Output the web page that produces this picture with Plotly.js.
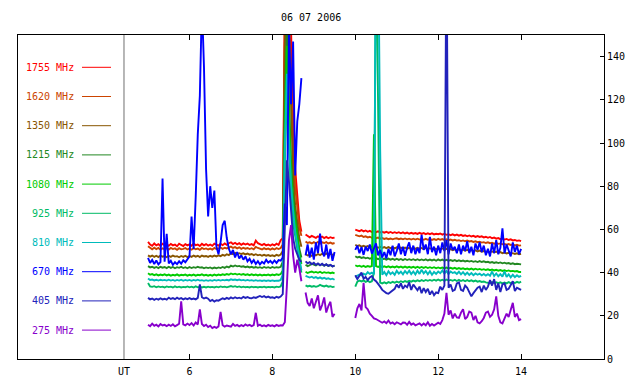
<!DOCTYPE html>
<html>
<head>
<meta charset="utf-8">
<script src="https://cdn.plot.ly/plotly-3.0.1.min.js"></script>
<style>html,body{margin:0;padding:0;background:#fff;}#chart{width:640px;height:384px;}</style>
</head>
<body>
<div id="chart"></div>
<script>
// Time (UT hours); null values in the series mark data gaps (8.75 and 9.75)
const T = [
5.00,5.05,5.10,5.15,5.20,5.25,5.30,5.35,5.40,5.45,
5.50,5.55,5.60,5.65,5.70,5.75,5.80,5.85,5.90,5.95,
6.00,6.05,6.10,6.15,6.20,6.25,6.30,6.35,6.40,6.45,
6.50,6.55,6.60,6.65,6.70,6.75,6.80,6.85,6.90,6.95,
7.00,7.05,7.10,7.15,7.20,7.25,7.30,7.35,7.40,7.45,
7.50,7.55,7.60,7.65,7.70,7.75,7.80,7.85,7.90,7.95,
8.00,8.05,8.10,8.15,8.20,8.25,8.30,8.35,8.40,8.45,
8.50,8.55,8.60,8.65,8.70,
8.75,
8.80,8.85,8.90,8.95,9.00,9.05,9.10,9.15,9.20,9.25,
9.30,9.35,9.40,9.45,9.50,
9.75,
10.00,10.05,10.10,10.15,10.20,10.25,10.30,10.35,10.40,10.45,
10.50,10.55,10.60,10.65,10.70,10.75,10.80,10.85,10.90,10.95,
11.00,11.05,11.10,11.15,11.20,11.25,11.30,11.35,11.40,11.45,
11.50,11.55,11.60,11.65,11.70,11.75,11.80,11.85,11.90,11.95,
12.00,12.05,12.10,12.15,12.20,12.25,12.30,12.35,12.40,12.45,
12.50,12.55,12.60,12.65,12.70,12.75,12.80,12.85,12.90,12.95,
13.00,13.05,13.10,13.15,13.20,13.25,13.30,13.35,13.40,13.45,
13.50,13.55,13.60,13.65,13.70,13.75,13.80,13.85,13.90,13.95,
14.00];

const s1755 = [
54.2,53.0,52.4,53.5,52.6,53.2,52.3,53.4,52.7,53.1,
52.4,53.3,52.6,53.0,52.2,53.4,52.8,52.3,53.2,52.6,
53.1,52.4,53.5,52.7,53.0,52.3,53.3,52.6,53.2,52.5,
53.0,52.4,53.4,52.8,52.5,53.3,52.7,53.5,52.9,53.6,
54.0,53.2,53.8,53.1,53.6,52.9,53.5,53.0,53.4,52.8,
53.2,52.6,54.8,53.6,53.1,52.7,53.3,52.6,53.0,52.5,
53.1,52.6,53.4,52.8,55.0,56,170,210,190,150,
115,88,76,64,59,
null,
57.6,56.9,56.3,57.0,56.6,56.1,56.8,56.2,56.7,56.0,
56.5,55.9,56.4,56.0,56.2,
null,
59.9,59.5,59.2,59.7,59.1,59.5,58.9,59.3,58.8,59.2,
58.7,59.1,58.6,58.9,58.5,58.9,58.4,58.8,58.3,58.7,
58.3,58.7,58.2,58.6,58.1,58.5,58.0,58.4,58.0,58.3,
57.9,58.4,57.9,58.3,57.8,58.2,57.8,58.2,57.7,58.0,
57.8,58.1,57.6,58.0,57.5,57.8,57.3,57.7,57.2,57.6,
57.1,57.5,57.0,57.3,56.8,57.2,56.7,57.0,56.5,56.9,
56.5,56.8,56.3,56.6,56.1,56.5,55.9,56.2,55.7,56.0,
55.5,55.8,55.3,55.6,55.1,55.4,54.9,55.1,54.7,54.9,
54.6];

const s1620 = [
52.2,51.3,50.8,51.5,50.9,51.4,50.6,51.2,50.8,51.3,
50.7,51.4,50.9,51.2,50.5,51.3,50.8,51.0,51.4,50.7,
51.2,50.6,51.3,50.8,51.1,50.5,51.4,50.9,51.2,50.7,
51.1,50.6,51.4,50.9,51.2,51.6,51.0,51.5,51.2,51.7,
52.0,51.4,51.8,51.2,51.7,51.0,51.5,51.1,51.4,50.9,
51.3,50.8,51.9,51.4,51.0,50.7,51.3,50.8,51.1,50.6,
51.2,50.7,51.3,50.9,51.4,53,155,195,165,125,
98,80,71,61,57,
null,
54.4,53.7,54.0,53.5,54.1,53.6,54.2,53.4,54.0,53.7,
54.1,53.5,53.9,53.4,53.7,
null,
57.5,57.0,56.8,57.1,56.5,56.8,56.3,56.6,56.1,56.4,
55.9,56.2,55.7,56.0,55.6,55.9,55.5,55.8,55.4,55.7,
55.9,55.5,55.8,55.4,55.8,55.4,55.7,55.3,55.7,55.3,
55.7,55.3,55.6,55.2,55.6,55.2,55.5,55.1,55.5,55.1,
55.6,55.2,55.5,55.1,55.4,55.0,55.3,54.9,55.2,54.8,
55.0,54.6,54.9,54.5,54.8,54.4,54.6,54.2,54.5,54.1,
54.3,53.9,54.1,53.7,54.0,53.6,53.8,53.4,53.7,53.3,
53.5,53.1,53.3,52.9,53.2,52.8,53.0,52.6,52.9,52.5,
52.6];

const s1350 = [
48.0,47.4,47.9,47.3,47.8,47.2,47.9,47.4,47.7,47.2,
47.8,47.3,47.9,47.4,47.6,47.1,47.7,47.3,47.8,47.2,
47.7,47.3,47.9,47.4,47.8,47.2,47.9,47.5,47.7,47.3,
47.8,47.4,47.9,47.5,48.0,47.6,48.2,47.8,48.5,48.1,
48.9,48.5,49.1,48.6,49.0,48.6,48.9,48.4,48.8,48.3,
48.6,48.1,48.5,48.0,48.3,47.8,48.2,47.8,48.1,47.7,
48.0,47.6,48.2,47.8,48.4,50,145,175,150,112,
86,71,63,56,52,
null,
48.6,47.9,48.3,47.7,48.4,48.0,48.6,48.1,48.7,48.2,
48.9,48.3,48.7,48.2,48.5,
null,
52.9,52.3,52.6,52.0,52.4,51.9,52.3,51.7,52.1,51.6,
52.0,51.5,51.9,51.4,51.8,51.3,51.8,51.3,51.7,51.2,
51.7,51.2,51.6,51.1,51.6,51.1,51.5,51.0,51.5,51.0,
51.5,51.0,51.4,50.9,51.4,50.9,51.3,50.8,51.3,50.8,
51.4,50.9,51.2,50.7,51.0,50.6,50.9,50.4,50.8,50.3,
50.7,50.2,50.6,50.1,50.5,50.0,50.4,49.9,50.3,49.8,
50.2,49.7,50.0,49.6,49.9,49.4,49.8,49.3,49.7,49.2,
49.5,49.0,49.3,48.9,49.2,48.8,49.0,48.6,48.9,48.5,
48.7];

const s1215 = [
43.0,42.4,42.7,42.2,42.6,42.1,42.7,42.3,42.6,42.1,
42.7,42.2,42.6,42.0,42.5,42.2,42.7,42.1,42.5,42.0,
42.6,42.1,42.5,42.2,42.7,42.3,42.5,42.0,42.4,42.1,
42.4,41.9,42.3,42.0,42.4,42.1,42.6,42.2,42.8,42.4,
43.2,42.8,43.3,42.9,43.1,42.7,42.9,42.5,42.8,42.4,
42.7,42.3,42.6,42.2,42.5,42.1,42.6,42.2,42.5,42.1,
42.6,42.2,42.5,42.3,42.7,45,115,155,122,92,
76,66,59,51,47,
null,
43.6,43.0,43.4,44.2,43.7,43.3,44.0,43.5,43.8,43.2,
43.7,43.1,43.5,42.9,43.2,
null,
47.6,47.0,47.3,46.8,47.1,46.6,46.9,46.4,46.8,46.3,
46.7,46.2,46.6,46.1,46.5,46.0,46.5,46.0,46.4,45.9,
46.4,45.9,46.3,45.8,46.3,45.8,46.2,45.8,46.2,45.7,
46.2,45.7,46.1,45.7,46.1,45.6,46.0,45.6,46.0,45.5,
46.1,45.6,46.0,45.5,45.9,45.5,45.8,45.4,45.8,45.3,
45.7,45.3,45.6,45.2,45.5,45.1,45.4,45.0,45.3,44.9,
45.3,44.9,45.2,44.8,45.0,44.6,44.9,44.5,44.8,44.4,
44.7,44.3,44.6,44.2,44.4,44.0,44.3,43.9,44.1,43.8,
43.8];

const s1080 = [
39.7,39.0,39.3,38.8,39.2,38.7,39.1,38.8,39.2,38.7,
39.1,38.6,39.0,38.7,39.2,38.6,39.0,38.8,39.1,38.6,
39.0,38.7,39.1,38.6,39.0,38.8,39.2,38.7,39.0,38.6,
39.0,38.6,39.1,38.7,39.1,38.8,39.2,38.9,39.3,39.0,
39.6,39.2,39.5,39.1,39.4,39.0,39.3,38.9,39.2,38.8,
39.2,38.8,39.1,38.7,39.1,38.7,39.0,38.8,39.1,38.7,
39.1,38.8,39.2,38.9,39.3,41,105,145,112,86,
71,63,56,49,44,
null,
40.4,39.8,40.2,40.5,40.0,40.3,39.9,40.4,39.8,40.2,
39.9,40.1,39.7,40.0,39.6,
null,
43.4,42.9,43.2,42.7,43.1,42.6,43.0,42.7,43.0,104.0,
43.0,42.6,43.0,42.5,42.9,42.5,42.9,42.4,42.8,42.4,
42.9,42.4,42.8,42.3,42.8,42.3,42.7,42.3,42.7,42.2,
42.7,42.2,42.6,42.2,42.6,42.1,42.5,42.1,42.5,42.0,
42.4,42.0,42.3,41.9,42.3,41.9,42.2,41.8,42.2,41.7,
42.1,41.7,42.0,41.6,41.9,41.5,41.9,41.4,41.8,41.4,
41.7,41.3,41.6,41.2,41.5,41.1,41.4,41.0,41.3,40.9,
41.2,40.8,41.1,40.7,41.0,40.6,40.8,40.5,40.7,40.3,
40.3];

const s925 = [
35.2,33.6,33.4,33.7,33.2,33.6,33.3,33.5,33.1,33.6,
33.3,33.5,33.1,33.6,33.2,33.5,33.1,33.4,33.2,33.6,
33.2,33.5,33.1,33.6,33.2,33.5,33.1,33.4,33.1,33.5,
33.2,33.4,33.1,33.5,33.2,33.6,33.3,33.5,33.2,33.6,
33.8,33.4,33.7,33.3,33.6,33.2,33.5,33.2,33.4,33.1,
33.5,33.2,33.4,33.1,33.4,33.2,33.5,33.1,33.4,33.2,
33.4,33.1,33.5,33.3,33.6,36,92,122,96,76,
63,56,51,45,40,
null,
34.1,33.6,33.9,33.5,33.8,33.4,33.7,34.3,33.9,33.6,
34.0,33.5,33.7,33.3,33.5,
null,
33.5,35.8,36.3,35.9,36.4,35.7,36.2,35.6,36.0,40.0,
200,128,35.4,35.0,35.5,35.0,35.6,35.2,35.7,35.3,
35.8,35.4,36.0,35.6,36.1,35.7,36.2,35.8,36.3,35.9,
36.4,36.0,36.5,36.1,36.6,36.2,36.6,36.2,36.7,36.3,
36.8,36.3,36.7,36.2,36.8,36.3,36.6,36.2,36.7,36.1,
36.6,36.1,36.5,36.0,36.5,36.0,36.4,35.9,36.3,35.8,
36.1,35.7,35.9,35.5,35.4,35.1,35.6,35.2,35.5,35.1,
35.5,35.0,35.4,35.0,35.6,35.1,35.5,35.2,35.7,35.3,
35.8];

const s810 = [
37.3,36.6,36.8,36.4,36.7,36.3,36.7,36.4,36.6,36.3,
36.7,36.3,36.6,36.2,36.6,36.3,36.7,36.2,36.6,36.3,
36.6,36.2,36.6,36.3,36.7,36.3,36.5,36.2,36.5,36.2,
36.5,36.2,36.6,36.3,36.6,36.3,36.6,36.4,36.7,36.4,
36.9,36.6,36.8,36.5,36.8,36.4,36.6,36.3,36.6,36.3,
36.5,36.2,36.5,36.2,36.4,36.1,36.4,36.1,36.4,36.1,
36.4,36.1,36.3,36.2,36.6,39,97,132,102,81,
69,59,53,47,41,
null,
38.5,38.0,37.7,38.1,37.5,37.9,37.3,37.8,37.2,37.6,
37.1,37.4,36.9,37.2,36.7,
null,
38.0,38.6,39.1,38.7,39.5,39.0,40.2,39.4,40.0,39.2,
200,200,97,39.0,40.3,38.8,40.6,39.3,40.1,39.0,
40.8,39.5,40.4,39.2,40.7,39.6,40.9,39.3,40.5,39.1,
40.9,39.4,41.3,39.6,40.7,39.2,40.6,39.0,40.3,39.4,
40.5,39.7,41.0,39.5,40.8,39.3,40.5,39.8,40.2,39.4,
40.4,39.2,40.2,39.0,40.0,38.9,39.8,38.8,39.6,39.0,
39.5,38.7,39.4,38.6,39.3,38.5,40.5,38.4,39.6,38.3,
39.3,38.1,40.6,38.0,39.2,37.8,39.0,37.9,38.8,38.0,
38.5];

const s670 = [
46.8,44.5,45.9,44.0,45.6,43.8,44.9,83.5,45.0,58.0,
44.2,45.5,43.6,44.8,43.9,45.2,44.1,45.7,44.8,46.2,
47.5,66.0,51.0,75.0,104.0,122.0,165.0,135.0,88.0,66.0,
80.0,70.0,78.0,52.0,48.5,54.0,62.0,64.0,56.0,51.0,
48.5,50.5,47.0,49.5,46.5,48.0,46.0,47.5,45.2,46.4,
44.5,45.8,44.0,45.3,43.8,45.0,44.2,45.9,44.6,45.4,
44.3,45.6,44.5,45.8,45.5,47,72,62,155,118,
147,85,110,118,130,
null,
48.0,53.0,47.0,51.5,46.0,54.0,49.0,58.0,50.0,47.5,
53.0,46.5,51.0,45.5,49.5,
null,
50.5,52.5,49.0,51.8,48.2,52.0,50.0,53.0,48.8,51.5,
53.5,48.0,50.5,47.0,49.5,46.5,51.0,48.0,52.5,47.5,
50.0,53.5,48.5,52.0,47.8,51.5,54.0,49.0,52.5,48.5,
51.5,49.0,57.5,50.5,53.0,48.5,56.5,49.5,52.0,48.0,
52.5,49.0,54.0,50.0,55.0,48.5,53.5,50.5,52.0,49.0,
53.0,48.5,52.5,50.0,54.5,49.0,52.0,48.0,53.5,50.5,
54.0,49.5,52.5,48.0,51.0,47.5,53.5,49.0,55.0,48.5,
51.5,60.5,49.0,53.0,50.0,47.5,54.0,49.5,52.5,48.5,
51.0];

const s405 = [
28.3,27.6,28.0,27.4,27.9,27.5,28.1,27.6,27.9,27.5,
28.4,27.8,28.2,27.7,28.4,27.8,28.2,27.6,28.1,27.7,
28.2,27.7,28.0,27.6,28.3,34.5,28.6,28.0,28.4,27.9,
26.8,27.4,26.6,27.2,27.0,27.6,28.1,27.7,28.3,27.8,
28.5,28.0,28.6,28.1,28.4,28.0,28.8,28.3,28.7,28.2,
28.1,28.6,28.3,28.8,29.2,28.7,29.1,28.5,28.9,28.4,
28.6,28.2,28.8,28.4,28.9,30,62,92,82,71,
56,51,48,46,45,
null,
45.2,44.3,44.8,43.9,44.6,43.6,44.2,43.4,44.1,43.3,
43.9,43.1,43.6,42.9,43.2,
null,
38.8,37.0,38.5,40.0,37.2,38.0,36.5,37.8,38.4,36.8,
36.0,35.0,33.5,32.0,31.0,30.5,30.2,31.0,31.8,32.5,
34.5,33.0,35.0,32.5,34.0,33.2,35.5,32.0,34.5,33.0,
31.8,33.5,30.5,32.8,31.0,32.5,29.8,31.5,29.5,30.8,
30.5,33.5,32.0,34.0,200,33.0,34.5,31.5,32.0,35.0,
35.5,32.0,31.5,34.0,33.0,31.0,29.0,30.5,31.8,33.0,
33.5,31.0,34.0,32.0,33.5,36.5,34.0,37.0,32.0,35.0,
31.0,34.5,35.0,32.0,32.5,34.5,36.0,31.5,33.0,32.5,
32.0];

const s275 = [
15.9,15.2,16.4,15.4,15.9,15.1,16.2,15.5,15.8,15.2,
15.9,15.3,16.1,15.1,15.7,16.3,26.7,16.0,15.6,16.4,
15.7,16.6,15.5,16.9,16.0,23.0,16.2,15.3,15.9,14.8,
15.4,14.3,14.9,14.4,15.1,21.8,15.6,15.0,15.5,15.1,
15.0,16.2,15.3,15.8,15.1,15.7,15.2,16.0,15.4,15.8,
15.2,15.7,21.4,15.4,15.9,15.2,15.6,15.1,15.8,15.3,
15.6,15.1,15.8,15.3,15.6,15.5,17,34,55,62,
48,40,46,42,36,
null,
30.8,26.0,24.5,28.0,23.5,26.5,29.5,22.5,25.0,28.5,
21.5,24.5,26.5,19.5,21.0,
null,
19.0,23.5,25.5,22.5,35.3,24.0,23.0,21.0,20.0,18.8,
18.5,17.8,17.5,16.8,17.4,16.6,17.8,16.4,16.9,16.1,
17.0,16.3,16.0,16.9,16.8,15.8,17.2,15.9,16.5,15.6,
15.9,16.5,15.5,16.4,15.6,17.0,15.4,16.2,15.5,16.1,
16.8,16.2,18.0,21.0,30.6,20.5,22.5,18.8,21.0,19.2,
19.0,21.5,23.0,18.5,19.5,22.0,21.5,18.0,20.0,17.0,
16.5,17.5,19.0,21.5,22.0,19.5,20.5,23.0,29.0,20.0,
17.0,16.5,18.5,21.0,19.5,22.5,26.0,19.5,21.0,18.0,
18.5];

const labels = ["1755 MHz","1620 MHz","1350 MHz","1215 MHz","1080 MHz","925 MHz","810 MHz","670 MHz","405 MHz","275 MHz"];
const series = [s1755,s1620,s1350,s1215,s1080,s925,s810,s670,s405,s275];
const colors = ["#ff0000","#cc4400","#885500","#228822","#00cc00","#00bb66","#00bbbb","#0000ff","#2222bb","#8800cc"];
const xTicks = [6,8,10,12,14];
const yTicks = [0,20,40,60,80,100,120,140];
const titleText = "06 07 2006";
const utX = 4.42;

const FONT = "DejaVu Sans Mono, Liberation Mono, monospace";
const traces = series.map((s,i)=>({
  x: T, y: s, type: "scatter", mode: "lines", name: labels[i],
  line: {color: colors[i], width: 1.9}, connectgaps: false, hoverinfo: "skip"
}));

// plot area in pixels: x 18..604, y 35..359
const L=18, R=604, TOP=35, BOT=359;
const px = v => (v - L)/(R - L);
const py = v => (BOT - v)/(BOT - TOP);

const annotations = [];
const shapes = [];
labels.forEach((lab,i)=>{
  const yy = 67.3 + i*29.2;
  annotations.push({xref:"paper", yref:"paper", x:px(75.5), y:py(yy), xanchor:"right", yanchor:"middle",
    text:lab, showarrow:false, font:{family:FONT, size:10, color:colors[i]}});
  shapes.push({type:"line", xref:"paper", yref:"paper", x0:px(82), x1:px(111), y0:py(yy), y1:py(yy),
    line:{color:colors[i], width:1}});
});
shapes.push({type:"line", xref:"x", yref:"paper", x0:utX, x1:utX, y0:0, y1:1, line:{color:"#707070", width:1}});
annotations.push({xref:"x", yref:"paper", x:utX, y:py(371.5), xanchor:"center", yanchor:"middle",
  text:"UT", showarrow:false, font:{family:FONT, size:10, color:"#000"}});
annotations.push({xref:"paper", yref:"paper", x:px(310.5), y:py(17.7), xanchor:"center", yanchor:"middle",
  text:titleText, showarrow:false, font:{family:FONT, size:10, color:"#000"}});

const layout = {
  width:640, height:384,
  margin:{l:L, r:640-R, t:TOP, b:384-BOT, pad:0},
  paper_bgcolor:"#fff", plot_bgcolor:"#fff",
  showlegend:false,
  font:{family:FONT, size:10, color:"#000"},
  xaxis:{range:[1.863,16.0], tickvals:xTicks, ticktext:xTicks.map(String), ticks:"inside", ticklen:5,
    tickcolor:"#000", showline:true, linecolor:"#000", linewidth:1, mirror:"ticks", showgrid:false,
    zeroline:false, automargin:false, ticklabelstandoff:3, tickfont:{family:FONT, size:10, color:"#000"}},
  yaxis:{range:[0,150], side:"right", tickvals:yTicks, ticks:"inside", ticklen:4, tickcolor:"#000",
    showline:true, linecolor:"#000", linewidth:1, mirror:true, showgrid:false, zeroline:false,
    automargin:false, tickfont:{family:FONT, size:10, color:"#000"}},
  shapes:shapes, annotations:annotations
};
Plotly.newPlot("chart", traces, layout, {staticPlot:true, displayModeBar:false});
</script>
</body>
</html>
